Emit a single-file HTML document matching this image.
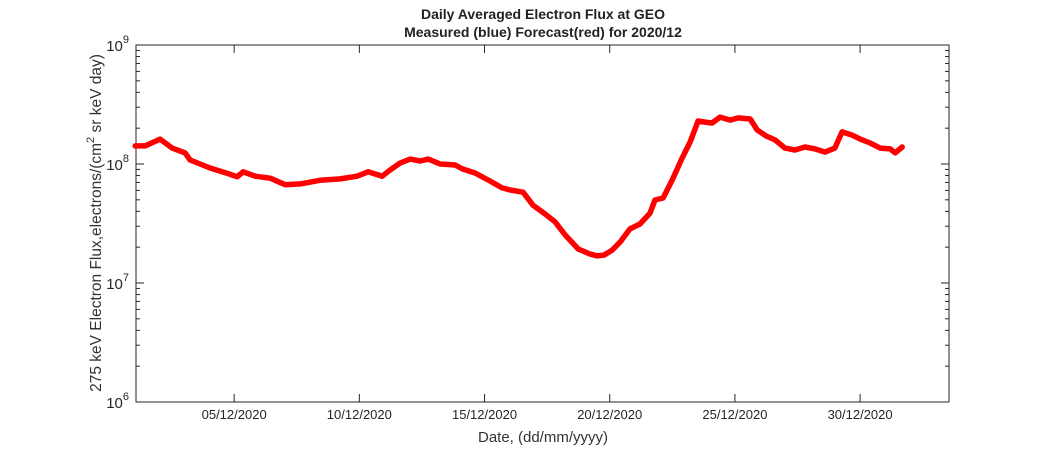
<!DOCTYPE html>
<html><head><meta charset="utf-8"><style>
body{margin:0;background:#fff;}
svg{display:block;font-family:"Liberation Sans",sans-serif;}
</style></head><body>
<svg id="chart" width="1050" height="450" viewBox="0 0 1050 450">
<rect x="0" y="0" width="1050" height="450" fill="#fff"/>
<text x="543" y="19" text-anchor="middle" font-size="14" font-weight="bold" fill="#222">Daily Averaged Electron Flux at GEO</text>
<text x="543" y="37" text-anchor="middle" font-size="14" font-weight="bold" fill="#222">Measured (blue) Forecast(red) for 2020/12</text>
<text x="543" y="442" text-anchor="middle" font-size="15" fill="#333">Date, (dd/mm/yyyy)</text>
<text transform="translate(101,223) rotate(-90)" text-anchor="middle" font-size="15.5" fill="#333">275 keV Electron Flux,electrons/(cm<tspan dy="-7" font-size="11">2</tspan><tspan dy="7"> sr keV day)</tspan></text>
<g id="axes"></g>
<g id="series"></g>
</svg>
<script>
const tickDays = [5, 10, 15, 20, 25, 30];
const tickLabels = ["05/12/2020","10/12/2020","15/12/2020","20/12/2020","25/12/2020","30/12/2020"];
const yDecades = [6, 7, 8, 9];
const days = [1.05,1.45,2.04,2.52,3.04,3.24,4.04,4.84,5.12,5.36,5.84,6.44,7.04,7.64,8.43,9.23,9.91,10.35,10.91,11.23,11.63,12.03,12.43,12.75,13.23,13.83,14.11,14.62,15.22,15.70,16.02,16.54,16.94,17.42,17.82,18.22,18.74,19.22,19.50,19.78,20.10,20.42,20.81,21.21,21.61,21.81,22.13,22.49,22.89,23.21,23.53,23.81,24.09,24.41,24.81,25.13,25.61,25.89,26.25,26.61,27.00,27.40,27.80,28.20,28.60,28.99,29.28,29.68,30.00,30.40,30.80,31.20,31.40,31.68];
const flux = [1.42e8,1.42e8,1.62e8,1.36e8,1.24e8,1.08e8,9.25e7,8.2e7,7.8e7,8.6e7,7.9e7,7.6e7,6.7e7,6.8e7,7.3e7,7.5e7,7.9e7,8.6e7,7.9e7,8.9e7,1.02e8,1.10e8,1.06e8,1.10e8,1.0e8,9.8e7,9.1e7,8.4e7,7.2e7,6.3e7,6.05e7,5.8e7,4.5e7,3.8e7,3.26e7,2.53e7,1.93e7,1.75e7,1.69e7,1.72e7,1.89e7,2.21e7,2.85e7,3.13e7,3.87e7,4.98e7,5.18e7,7.3e7,1.12e8,1.53e8,2.3e8,2.25e8,2.21e8,2.48e8,2.34e8,2.44e8,2.39e8,1.93e8,1.72e8,1.59e8,1.36e8,1.31e8,1.39e8,1.34e8,1.26e8,1.36e8,1.86e8,1.75e8,1.62e8,1.50e8,1.36e8,1.34e8,1.24e8,1.39e8];

const L=136,R=949,T=45,B=402;
const xMin=1.08, xMax=33.55;
const xs=d=>L+(d-xMin)/(xMax-xMin)*(R-L);
const ys=v=>B-(Math.log10(v)-6)/3*(B-T);
const NS="http://www.w3.org/2000/svg";
function mk(tag,attrs,parent){const e=document.createElementNS(NS,tag);for(const k in attrs)e.setAttribute(k,attrs[k]);parent.appendChild(e);return e;}
const ax=document.getElementById('axes');
const frame=mk('rect',{x:L,y:T,width:R-L,height:B-T,fill:'none',stroke:'#262626','stroke-width':1},ax);


tickDays.forEach((d,i)=>{
  const x=xs(d);
  mk('line',{x1:x,x2:x,y1:B,y2:B-8,stroke:'#262626'},ax);
  mk('line',{x1:x,x2:x,y1:T,y2:T+8,stroke:'#262626'},ax);
  const t=mk('text',{x:x,y:B+17,'text-anchor':'middle','font-size':13,fill:'#262626'},ax);
  t.textContent=tickLabels[i];
  
  
});
yDecades.forEach((p,i)=>{
  const y=ys(Math.pow(10,p));
  mk('line',{x1:L,x2:L+8,y1:y,y2:y,stroke:'#262626'},ax);
  mk('line',{x1:R,x2:R-8,y1:y,y2:y,stroke:'#262626'},ax);
  const t=mk('text',{x:L-7,y:y+6,'text-anchor':'end','font-size':15,fill:'#262626'},ax);
  
  
  const a=document.createElementNS(NS,'tspan');a.textContent='10';t.appendChild(a);
  const b=document.createElementNS(NS,'tspan');b.setAttribute('dy','-8');b.setAttribute('font-size','11');b.textContent=String(p);t.appendChild(b);
  if(i<yDecades.length-1){
    for(let m=2;m<=9;m++){
      const ym=ys(m*Math.pow(10,p));
      mk('line',{x1:L,x2:L+4,y1:ym,y2:ym,stroke:'#262626'},ax);
      mk('line',{x1:R,x2:R-4,y1:ym,y2:ym,stroke:'#262626'},ax);
    }
  }
});
const sg=document.getElementById('series');
const pts=days.map((d,i)=>xs(d).toFixed(1)+','+ys(flux[i]).toFixed(1)).join(' ');
const line=mk('polyline',{points:pts,fill:'none',stroke:'#ff0000','stroke-width':5.5,'stroke-linejoin':'round','stroke-linecap':'round'},sg);


</script>
</body></html>
